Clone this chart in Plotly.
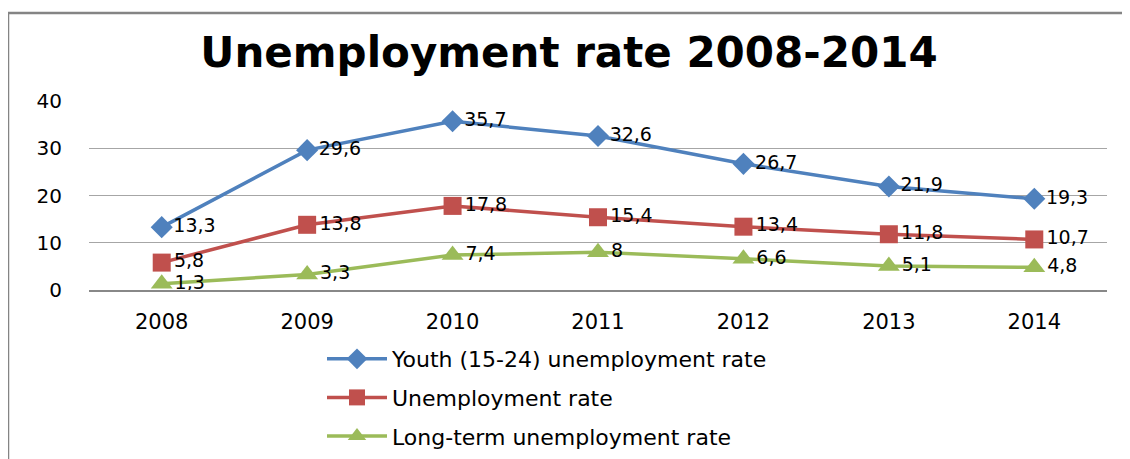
import plotly.graph_objects as go

years = ["2008", "2009", "2010", "2011", "2012", "2013", "2014"]
youth = [13.3, 29.6, 35.7, 32.6, 26.7, 21.9, 19.3]
unemp = [5.8, 13.8, 17.8, 15.4, 13.4, 11.8, 10.7]
longterm = [1.3, 3.3, 7.4, 8.0, 6.6, 5.1, 4.8]
names = ["Youth (15-24) unemployment rate", "Unemployment rate", "Long-term unemployment rate"]
colors = ["#4F81BD", "#C0504D", "#9BBB59"]
symbols = ["diamond", "square", "triangle-up"]
sizes = [17, 18, 19]

FONT = "DejaVu Sans"

def fmt(v):
    s = ("%g" % v)
    return s.replace(".", ",")

fig = go.Figure()
for i, (vals, name) in enumerate(zip([youth, unemp, longterm], names)):
    fig.add_trace(go.Scatter(
        x=years, y=vals, name=name, mode="lines+markers+text",
        line=dict(color=colors[i], width=3.5),
        marker=dict(symbol=symbols[i], size=sizes[i], color=colors[i]),
        text=[fmt(v) for v in vals], textposition="middle right",
        textfont=dict(family=FONT, size=19, color="#000000"),
        legendgroup="g%d" % i, cliponaxis=False,
    ))

# page has an 8px body margin; design in screenshot pixels and shift by it
OFF = 8
W, H = 1130 - OFF, 459 - OFF
L, R, T, B = 89 - OFF, 1107 - OFF, 101 - OFF, 290 - OFF
def px_x(p):
    return (p - OFF - L) / (R - L)
def px_y(p):
    return (B - (p - OFF)) / (B - T)

fig.update_layout(
    width=W, height=H,
    margin=dict(l=L, r=W - R, t=T, b=H - B, autoexpand=False),
    paper_bgcolor="white", plot_bgcolor="white",
    title=dict(text="<b>Unemployment rate 2008-2014</b>", x=0.5, xanchor="center",
               y=1 - (52 - OFF) / H, yanchor="middle",
               font=dict(family=FONT, size=42, color="#000000")),
    font=dict(family=FONT, size=19, color="#000000"),
    showlegend=True,
    legend=dict(xref="container", yref="container",
                x=(322 - OFF) / W, y=1 - (338 - OFF) / H, xanchor="left", yanchor="top",
                orientation="v", font=dict(family=FONT, size=22, color="#000000"),
                itemwidth=60, tracegroupgap=7, bgcolor="rgba(0,0,0,0)"),
    xaxis=dict(type="category", range=[-0.5, 6.5], showgrid=False,
               showline=True, linecolor="#888888", linewidth=1.5,
               ticks="", tickfont=dict(family=FONT, size=21), ticklabelstandoff=12),
    yaxis=dict(range=[0, 40], tickvals=[0, 10, 20, 30, 40], showgrid=True,
               gridcolor="#A6A6A6", gridwidth=1.2, zeroline=False, showline=False,
               ticks="", tickfont=dict(family=FONT, size=20), ticklabelstandoff=26),
    shapes=[dict(type="rect", xref="paper", yref="paper",
                 x0=px_x(8), x1=px_x(1140), y0=px_y(470), y1=px_y(13),
                 line=dict(color="#848484", width=2.5), fillcolor="rgba(0,0,0,0)", layer="below")],
)

fig.write_html("out.html")
